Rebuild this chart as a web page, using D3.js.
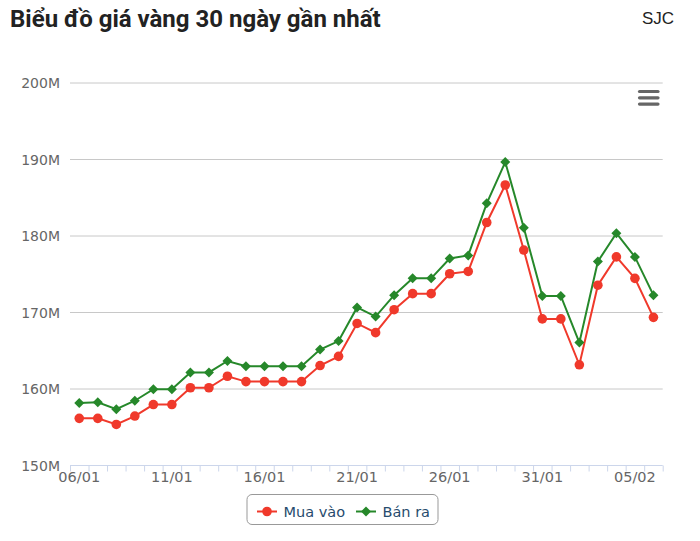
<!DOCTYPE html>
<html>
<head>
<meta charset="utf-8">
<script src="https://cdn.jsdelivr.net/npm/d3@7"></script>
<style>
  body { margin: 0; background: #fff; }
  #chart { width: 700px; height: 541px; }
</style>
</head>
<body>
<div id="chart"></div>
<script>
// dates (dd/mm)
var dates = ["06/01","07/01","08/01","09/01","10/01","11/01","12/01","13/01","14/01","15/01",
             "16/01","17/01","18/01","19/01","20/01","21/01","22/01","23/01","24/01","25/01",
             "26/01","27/01","28/01","29/01","30/01","31/01","01/02","02/02","03/02","04/02",
             "05/02","06/02"];
var labelDates = ["06/01","11/01","16/01","21/01","26/01","31/01","05/02"];

// prices in million VND
var muaVao = [156.1,156.1,155.3,156.4,157.9,157.9,160.1,160.1,161.6,160.9,
              160.9,160.9,160.9,163.0,164.2,168.5,167.3,170.3,172.4,172.4,
              175.0,175.3,181.7,186.6,178.1,169.1,169.1,163.1,173.5,177.2,
              174.4,169.3];
var banRa  = [158.1,158.2,157.3,158.4,159.9,159.9,162.1,162.1,163.6,162.9,
              162.9,162.9,162.9,165.1,166.2,170.6,169.4,172.2,174.4,174.4,
              177.0,177.4,184.2,189.6,181.0,172.1,172.1,166.0,176.6,180.3,
              177.2,172.2];
var yTicks = [150,160,170,180,190,200];

var margin = {top: 82.5, right: 37.3, bottom: 76, left: 70},
    width = 700 - margin.left - margin.right,
    height = 541 - margin.top - margin.bottom;

var svg = d3.select("#chart").append("svg")
    .attr("width", 700)
    .attr("height", 541);

// title + source
svg.append("text")
    .attr("x", 10).attr("y", 27)
    .attr("font-family", "Roboto, sans-serif")
    .attr("font-weight", "bold")
    .attr("font-size", 24)
    .attr("fill", "#222")
    .text("Biểu đồ giá vàng 30 ngày gần nhất");

svg.append("text")
    .attr("x", 642).attr("y", 23.5)
    .attr("font-family", "'Liberation Sans', Arial, sans-serif")
    .attr("font-size", 17)
    .attr("fill", "#222")
    .text("SJC");

var g = svg.append("g")
    .attr("transform", "translate(" + margin.left + "," + margin.top + ")");

var xScale = d3.scaleBand()
    .domain(dates)
    .range([0, width])
    .padding(0);

var xTicksScale = d3.scaleLinear()
    .domain([0, dates.length])
    .range([0, width]);

var yScale = d3.scaleLinear()
    .domain([150, 200])
    .range([height, 0]);

var cx = function(d, i) { return xScale(dates[i]) + xScale.bandwidth() / 2; };

// grid lines
g.append("g")
    .selectAll("line")
    .data(yTicks.slice(1))
    .enter().append("line")
    .attr("x1", 0).attr("x2", width)
    .attr("y1", function(d) { return yScale(d) + 0.5; })
    .attr("y2", function(d) { return yScale(d) + 0.5; })
    .attr("stroke", "#c8c8c8")
    .attr("stroke-width", 1);

// y axis labels
var yAxis = g.append("g")
    .call(d3.axisLeft(yScale).tickValues(yTicks).tickSize(0).tickPadding(10)
        .tickFormat(function(d) { return d + "M"; }));
yAxis.select(".domain").remove();
yAxis.selectAll("text")
    .attr("dy", "0.6em")
    .attr("y", -3)
    .attr("font-family", "'DejaVu Sans', sans-serif")
    .attr("font-size", 14)
    .attr("fill", "#666");

// x axis: tick marks at band edges
var xTickAxis = g.append("g")
    .attr("transform", "translate(0," + (height + 0.5) + ")")
    .call(d3.axisBottom(xTicksScale).tickValues(d3.range(dates.length + 1)).tickSize(6).tickFormat(""));
xTickAxis.select(".domain").attr("stroke", "#ccd6eb").attr("d", "M0,0H" + width);
xTickAxis.selectAll(".tick line").attr("stroke", "#ccd6eb");

// x axis labels
var xAxis = g.append("g")
    .attr("transform", "translate(0," + height + ")")
    .call(d3.axisBottom(xScale).tickValues(labelDates).tickSize(0).tickPadding(7));
xAxis.select(".domain").remove();
xAxis.selectAll("text")
    .attr("font-family", "'DejaVu Sans', sans-serif")
    .attr("font-size", 14.5)
    .attr("fill", "#666");

// lines
var line = d3.line()
    .x(cx)
    .y(function(d) { return yScale(d); });

g.append("path")
    .datum(muaVao)
    .attr("d", line)
    .attr("fill", "none")
    .attr("stroke", "#f0392b")
    .attr("stroke-width", 2);

g.append("path")
    .datum(banRa)
    .attr("d", line)
    .attr("fill", "none")
    .attr("stroke", "#26882a")
    .attr("stroke-width", 2);

// markers
g.selectAll(".dot")
    .data(muaVao)
    .enter().append("circle")
    .attr("class", "dot")
    .attr("cx", cx)
    .attr("cy", function(d) { return yScale(d); })
    .attr("r", 4.8)
    .attr("fill", "#f0392b");

var diamond = "M0,-5L5,0L0,5L-5,0Z";
g.selectAll(".diamond")
    .data(banRa)
    .enter().append("path")
    .attr("class", "diamond")
    .attr("d", diamond)
    .attr("transform", function(d, i) { return "translate(" + cx(d, i) + "," + yScale(d) + ")"; })
    .attr("fill", "#26882a");

// export menu icon
svg.append("g")
    .selectAll("line")
    .data([91.5, 97.8, 104.1])
    .enter().append("line")
    .attr("x1", 639.5).attr("x2", 658)
    .attr("y1", function(d) { return d; })
    .attr("y2", function(d) { return d; })
    .attr("stroke", "#666")
    .attr("stroke-width", 3.2)
    .attr("stroke-linecap", "round");

// legend
var legend = svg.append("g").attr("transform", "translate(247,494.5)");
legend.append("rect")
    .attr("width", 191).attr("height", 30)
    .attr("rx", 5)
    .attr("fill", "#fff")
    .attr("stroke", "#999")
    .attr("stroke-width", 1);

var legendItems = [
    {name: "Mua vào", color: "#f0392b", shape: "circle", x: 10},
    {name: "Bán ra", color: "#26882a", shape: "diamond", x: 109}
];
var li = legend.selectAll(".item")
    .data(legendItems)
    .enter().append("g")
    .attr("class", "item")
    .attr("transform", function(d) { return "translate(" + d.x + ",17)"; });
li.append("line")
    .attr("x1", 0).attr("x2", 20)
    .attr("y1", 0).attr("y2", 0)
    .attr("stroke", function(d) { return d.color; })
    .attr("stroke-width", 2);
li.each(function(d) {
    var s = d3.select(this);
    if (d.shape === "circle") {
        s.append("circle").attr("cx", 10).attr("r", 4.8).attr("fill", d.color);
    } else {
        s.append("path").attr("d", diamond).attr("transform", "translate(10,0)").attr("fill", d.color);
    }
});
li.append("text")
    .attr("x", 26.5)
    .attr("y", 5)
    .attr("font-family", "'DejaVu Sans', sans-serif")
    .attr("font-size", 14.5)
    .attr("fill", "#274b6d")
    .text(function(d) { return d.name; });
</script>
</body>
</html>
